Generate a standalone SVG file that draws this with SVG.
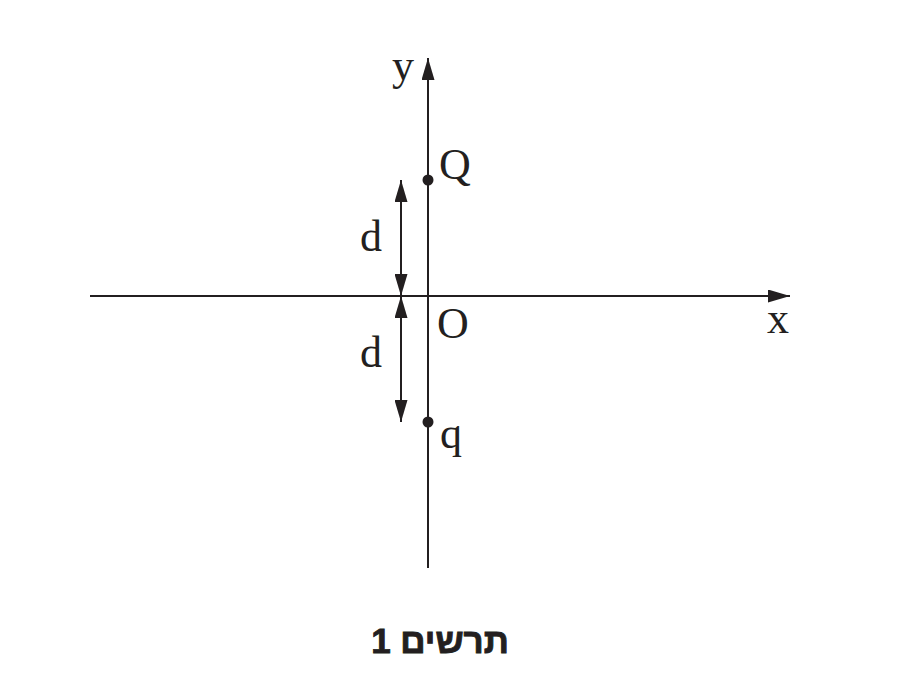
<svg xmlns="http://www.w3.org/2000/svg" width="900" height="700" viewBox="0 0 900 700">
<style>
.ax{stroke:#231f20;stroke-width:2;fill:none}
.lbl{font-family:"Liberation Serif","Times New Roman",serif;font-size:44px;fill:#231f20}
.cap{font-family:"Liberation Sans","DejaVu Sans",sans-serif;font-size:35px;font-weight:bold;fill:#231f20;stroke:#231f20;stroke-width:0.9}
</style>
<defs>
<marker id="ah" viewBox="0 0 22 13" refX="22" refY="6.5" markerWidth="22" markerHeight="13" markerUnits="userSpaceOnUse" orient="auto">
<path d="M0,0 L22,6.5 L0,13 Z" fill="#231f20"/>
</marker>
</defs>
<rect width="900" height="700" fill="#fff"/>
<g id="connectors">
<line class="ax" x1="90" y1="296" x2="790" y2="296" marker-end="url(#ah)"/>
<line class="ax" x1="428" y1="568" x2="428" y2="58" marker-end="url(#ah)"/>
<line class="ax" x1="401" y1="238" x2="401" y2="180" marker-end="url(#ah)"/>
<line class="ax" x1="401" y1="238" x2="401" y2="296" marker-end="url(#ah)"/>
<line class="ax" x1="401" y1="359" x2="401" y2="296" marker-end="url(#ah)"/>
<line class="ax" x1="401" y1="359" x2="401" y2="422" marker-end="url(#ah)"/>
</g>
<g id="Q"><circle cx="428" cy="180" r="5.5" fill="#231f20"/><text class="lbl" x="439" y="179">Q</text></g>
<g id="q"><circle cx="428" cy="422" r="5.5" fill="#231f20"/><text class="lbl" x="440" y="448">q</text></g>
<g id="O"><text class="lbl" x="437" y="338">O</text></g>
<g id="xlabel"><text class="lbl" x="767" y="333">x</text></g>
<g id="ylabel"><text class="lbl" x="392" y="80">y</text></g>
<g id="d1"><text class="lbl" x="360" y="251">d</text></g>
<g id="d2"><text class="lbl" x="360" y="367">d</text></g>
<g id="caption"><text class="cap" x="440" y="653" text-anchor="middle" direction="rtl" unicode-bidi="embed">תרשים 1</text></g>
</svg>
